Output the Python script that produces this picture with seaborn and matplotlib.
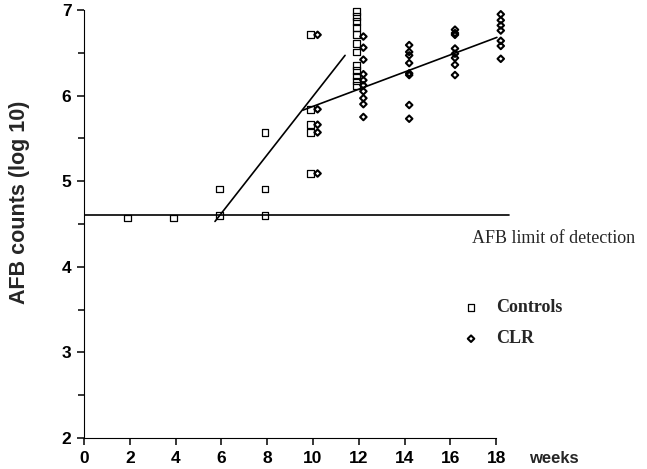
import matplotlib
matplotlib.use("Agg")
import matplotlib.pyplot as plt
from matplotlib.ticker import MultipleLocator
import seaborn as sns
import pandas as pd

# data (weeks, log10 AFB counts)
ctrl_weeks = [2, 4, 6, 6, 8, 8, 8,
              10, 10, 10, 10, 10,
              12, 12, 12, 12, 12, 12, 12, 12, 12, 12, 12, 12]
ctrl_log = [4.57, 4.57, 4.60, 4.91, 4.60, 4.91, 5.57,
            5.09, 5.57, 5.66, 5.84, 6.71,
            6.98, 6.92, 6.87, 6.80, 6.71, 6.61, 6.51, 6.35, 6.29, 6.23, 6.17, 6.12]

clr_weeks = [10, 10, 10, 10, 10,
             12, 12, 12, 12, 12, 12, 12, 12, 12, 12,
             14, 14, 14, 14, 14, 14, 14, 14,
             16, 16, 16, 16, 16, 16, 16, 16,
             18, 18, 18, 18, 18, 18, 18]
clr_log = [5.09, 5.57, 5.66, 5.84, 6.71,
           6.69, 6.56, 6.42, 6.25, 6.18, 6.12, 6.05, 5.97, 5.90, 5.75,
           6.59, 6.51, 6.47, 6.38, 6.26, 6.24, 5.89, 5.73,
           6.77, 6.73, 6.71, 6.55, 6.49, 6.44, 6.36, 6.24,
           6.95, 6.88, 6.82, 6.76, 6.64, 6.58, 6.43]

# fitted lines as drawn in the figure
ctrl_fit_weeks = [5.72, 11.40]
ctrl_fit_log = [4.53, 6.47]
clr_fit_weeks = [9.56, 18.03]
clr_fit_log = [5.83, 6.68]

detect_limit = 4.6
detect_weeks = [0, 18.56]

x_ticks = [0, 2, 4, 6, 8, 10, 12, 14, 16, 18]
y_ticks = [2, 3, 4, 5, 6, 7]

ctrl = pd.DataFrame({"week": ctrl_weeks, "log": ctrl_log})
clr = pd.DataFrame({"week": clr_weeks, "log": clr_log})
ctrl["x"] = ctrl["week"] - 0.1
clr["x"] = clr["week"] + 0.2

sns.set_style("ticks", rc={"axes.edgecolor": "black", "xtick.color": "black",
                           "ytick.color": "black", "axes.linewidth": 1.1})
plt.rcParams["font.family"] = ["Liberation Sans", "DejaVu Sans"]

fig = plt.figure(figsize=(6.47, 4.69), dpi=100)
ax = fig.add_axes([84 / 647, 31 / 469, (542 - 84) / 647, (438 - 10) / 469])

sns.lineplot(x=detect_weeks, y=[detect_limit, detect_limit], ax=ax,
             color="black", lw=1.2)
sns.lineplot(x=ctrl_fit_weeks, y=ctrl_fit_log, ax=ax, color="black", lw=1.2)
sns.lineplot(x=clr_fit_weeks, y=clr_fit_log, ax=ax, color="black", lw=1.2)

sns.scatterplot(data=ctrl, x="x", y="log", ax=ax, marker="s", s=24,
                color="black", facecolor="none", edgecolor="black",
                linewidth=0.9, label="Controls", clip_on=False, zorder=3)
sns.scatterplot(data=clr, x="x", y="log", ax=ax, marker="D", s=11,
                color="black", facecolor="none", edgecolor="black",
                linewidth=1.5, label="CLR", clip_on=False, zorder=3)

ax.set_xlim(0, 20)
ax.set_ylim(2, 7)
ax.set_xticks(x_ticks)
ax.set_yticks(y_ticks)
ax.yaxis.set_minor_locator(MultipleLocator(0.5))
ax.tick_params(axis="both", which="major", length=5, width=1.1, pad=4,
               labelsize=12.5)
ax.tick_params(axis="y", which="minor", length=4, width=1.1)
for lab in ax.get_xticklabels() + ax.get_yticklabels():
    lab.set_fontweight("bold")
ax.spines["top"].set_visible(False)
ax.spines["right"].set_visible(False)
ax.spines["bottom"].set_bounds(0, 18)
ax.set_xlabel("")
ax.set_ylabel("")

ax.text(19.45, 1.766, "weeks", fontsize=12, fontweight="bold",
        ha="left", va="center", clip_on=False)
ax.text(16.95, 4.33, "AFB limit of detection", fontsize=13,
        family=["Liberation Serif"], ha="left", va="center")
fig.text(20 / 647, 1 - 202 / 469, "AFB counts (log 10)", rotation=90,
         fontsize=15.5, fontweight="bold", ha="center", va="center")

ax.legend(loc="upper left", bbox_to_anchor=(462 / 647, 1 - 299 / 469),
          bbox_transform=fig.transFigure, frameon=False, borderpad=0,
          borderaxespad=0, handlelength=1, handletextpad=0.9,
          labelspacing=0.8, scatterpoints=1,
          prop={"family": "Liberation Serif", "weight": "bold", "size": 13})

fig.savefig("out.png", dpi=100)
